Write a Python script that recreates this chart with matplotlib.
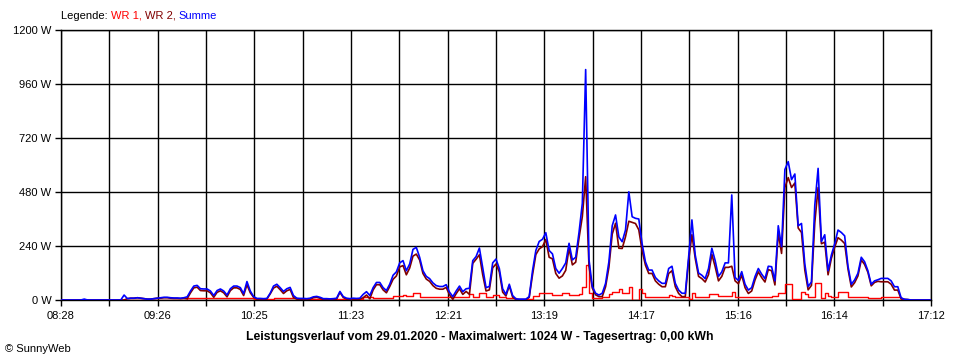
import matplotlib
matplotlib.use("Agg")
import matplotlib.pyplot as plt
from matplotlib.ticker import FixedLocator
import numpy as np

# ---- data: one sample every 2 minutes starting at 08:28 ----
minutes = list(range(0, 526, 2))

summe = [
    0, 0, 0, 0, 0, 0, 0, 4, 0, 0,
    0, 0, 0, 0, 0, 0, 0, 0, 0, 22,
    6, 8, 8, 10, 8, 6, 4, 4, 6, 8,
    10, 12, 12, 10, 9, 9, 8, 10, 14, 40,
    62, 65, 50, 49, 49, 40, 20, 42, 49, 40,
    22, 50, 62, 62, 55, 28, 82, 40, 15, 7,
    7, 6, 7, 30, 62, 70, 55, 38, 50, 56,
    20, 8, 7, 7, 6, 8, 14, 16, 12, 6,
    6, 5, 6, 8, 38, 15, 8, 6, 8, 7,
    8, 25, 37, 20, 55, 78, 78, 55, 42, 70,
    110, 125, 165, 175, 130, 160, 225, 234, 190, 130,
    105, 95, 76, 64, 60, 60, 68, 35, 15, 40,
    62, 37, 50, 52, 175, 193, 231, 142, 55, 60,
    165, 182, 140, 50, 25, 70, 20, 5, 4, 4,
    4, 15, 130, 220, 260, 270, 299, 220, 205, 140,
    119, 140, 165, 252, 178, 190, 300, 430, 1024, 180,
    60, 30, 22, 30, 74, 170, 330, 378, 280, 259,
    311, 481, 370, 363, 360, 250, 170, 133, 133, 100,
    85, 74, 74, 140, 150, 74, 44, 30, 30, 190,
    356, 200, 120, 110, 95, 140, 230, 175, 105, 125,
    165, 165, 467, 100, 87, 126, 70, 44, 55, 104,
    140, 115, 95, 150, 148, 85, 330, 237, 580, 615,
    535, 560, 330, 340, 160, 60, 80, 420, 585, 260,
    290, 130, 200, 250, 311, 300, 285, 150, 70, 89,
    119, 190, 170, 130, 70, 85, 90, 96, 96, 96,
    85, 59, 59, 10, 3, 2, 0, 0, 0, 0,
    0, 0, 0,
]

wr1 = [
    0, 0, 0, 0, 0, 0, 0, 0, 0, 0,
    0, 0, 0, 0, 0, 0, 0, 0, 0, 0,
    0, 0, 0, 0, 0, 0, 0, 0, 0, 0,
    2, 2, 2, 2, 2, 2, 2, 2, 8, 8,
    8, 8, 8, 8, 8, 8, 8, 8, 8, 8,
    8, 8, 8, 8, 8, 8, 8, 8, 3, 3,
    3, 3, 3, 3, 9, 9, 9, 9, 9, 9,
    9, 4, 4, 4, 4, 4, 4, 4, 4, 4,
    4, 4, 4, 4, 4, 4, 4, 4, 4, 4,
    4, 15, 15, 15, 10, 10, 10, 10, 10, 10,
    18, 18, 18, 22, 18, 18, 30, 30, 12, 12,
    12, 12, 12, 12, 12, 12, 12, 12, 12, 12,
    12, 12, 12, 27, 12, 12, 30, 30, 15, 15,
    22, 22, 15, 15, 7, 7, 7, 3, 3, 3,
    3, 3, 18, 18, 33, 33, 30, 30, 22, 22,
    22, 33, 33, 22, 22, 22, 25, 59, 156, 30,
    7, 7, 7, 15, 15, 25, 37, 37, 50, 30,
    30, 56, 2, 2, 48, 30, 15, 15, 15, 15,
    15, 15, 15, 22, 20, 15, 15, 15, 15, 3,
    30, 15, 15, 15, 15, 27, 27, 27, 20, 20,
    20, 20, 37, 15, 15, 15, 15, 15, 15, 15,
    15, 15, 15, 15, 18, 18, 30, 30, 71, 71,
    3, 3, 3, 37, 27, 15, 15, 77, 77, 8,
    33, 18, 15, 15, 34, 34, 34, 12, 12, 12,
    12, 12, 12, 7, 7, 7, 7, 15, 15, 15,
    15, 15, 15, 5, 0, 0, 0, 0, 0, 0,
    0, 0, 0,
]

wr2 = [
    0, 0, 0, 0, 0, 0, 0, 0, 0, 0,
    0, 0, 0, 0, 0, 0, 0, 0, 0, 0,
    6, 8, 8, 10, 8, 6, 4, 4, 6, 8,
    8, 10, 10, 8, 7, 7, 6, 8, 6, 32,
    54, 57, 42, 41, 41, 32, 12, 34, 41, 32,
    14, 42, 54, 54, 47, 20, 68, 32, 12, 4,
    4, 3, 4, 27, 53, 61, 46, 29, 41, 47,
    11, 4, 3, 3, 2, 4, 10, 12, 8, 2,
    2, 1, 2, 4, 34, 11, 4, 2, 4, 3,
    4, 10, 22, 5, 45, 68, 68, 45, 32, 60,
    92, 107, 147, 153, 112, 142, 195, 204, 178, 118,
    93, 83, 64, 52, 48, 48, 56, 23, 3, 28,
    50, 25, 38, 25, 163, 181, 201, 112, 40, 45,
    143, 160, 125, 35, 18, 63, 13, 2, 1, 1,
    1, 12, 112, 202, 227, 237, 269, 190, 183, 118,
    97, 107, 132, 230, 156, 168, 275, 371, 548, 150,
    53, 23, 15, 15, 59, 145, 293, 341, 230, 229,
    281, 350, 345, 340, 312, 220, 155, 118, 118, 85,
    70, 59, 59, 118, 130, 59, 29, 15, 15, 175,
    290, 185, 105, 95, 80, 113, 203, 148, 85, 105,
    145, 145, 150, 85, 72, 111, 55, 29, 40, 89,
    125, 100, 80, 135, 130, 67, 300, 207, 500, 544,
    500, 520, 320, 300, 133, 45, 65, 343, 500, 250,
    257, 112, 185, 235, 277, 266, 251, 138, 58, 77,
    107, 178, 158, 123, 63, 78, 83, 81, 81, 81,
    70, 44, 44, 5, 3, 2, 0, 0, 0, 0,
    0, 0, 0,
]

x_labels = ["08:28", "09:26", "10:25", "11:23", "12:21",
            "13:19", "14:17", "15:16", "16:14", "17:12"]
y_values = [0, 240, 480, 720, 960, 1200]
y_labels = [f"{v} W" for v in y_values]
span_minutes = 524

legend_parts = [("Legende: ", "#000000"), ("WR 1, ", "#FF0000"),
                ("WR 2, ", "#800000"), ("Summe", "#0000FF")]
title = "Leistungsverlauf vom 29.01.2020 - Maximalwert: 1024 W - Tagesertrag: 0,00 kWh"
credit = "\u00a9 SunnyWeb"

# ---- drawing ----
plt.rcParams['font.family'] = ['Liberation Sans', 'DejaVu Sans']
W, H = 960, 360
fig = plt.figure(figsize=(W / 100, H / 100), dpi=100)
fig.patch.set_facecolor("white")
ax = fig.add_axes([61 / W, 1 - 300 / H, (931 - 61) / W, 270 / H])

ax.plot(minutes, wr1, color="#FF0000", lw=1.0, drawstyle="steps-post", zorder=3)
ax.plot(minutes, wr2, color="#800000", lw=1.2, zorder=4)
ax.plot(minutes, summe, color="#0000FF", lw=1.2, zorder=5)

ax.set_xlim(0, span_minutes)
ax.set_ylim(0, 1200)

grid_x = np.linspace(0, span_minutes, 2 * (len(x_labels) - 1) + 1)
ax.xaxis.set_major_locator(FixedLocator(grid_x[::2]))
ax.xaxis.set_minor_locator(FixedLocator(grid_x[1::2]))
ax.set_xticklabels(x_labels)
ax.set_yticks(y_values)
ax.set_yticklabels(y_labels)

ax.grid(True, which="both", color="black", lw=1.0, zorder=1)
ax.set_axisbelow(True)
for sp in ax.spines.values():
    sp.set_color("black")
    sp.set_linewidth(1.0)

ax.tick_params(axis="both", which="both", direction="out", length=4,
               width=1.0, color="black", labelsize=8)
ax.tick_params(axis="x", which="both", pad=4)
ax.tick_params(axis="y", pad=3)

# coloured legend line at the top
fig.canvas.draw()
renderer = fig.canvas.get_renderer()
xpos = 61
for text, col in legend_parts:
    t = fig.text(xpos / W, 1 - 16 / H, text, color=col, fontsize=8,
                 ha="left", va="center")
    bb = t.get_window_extent(renderer=renderer)
    xpos = bb.x1

fig.text(480 / W, 1 - 337 / H, title, fontsize=8.8, fontweight="bold",
         ha="center", va="center")
fig.text(5 / W, 1 - 349 / H, credit, fontsize=8, ha="left", va="center")

fig.savefig("out.png", dpi=100, facecolor="white")
